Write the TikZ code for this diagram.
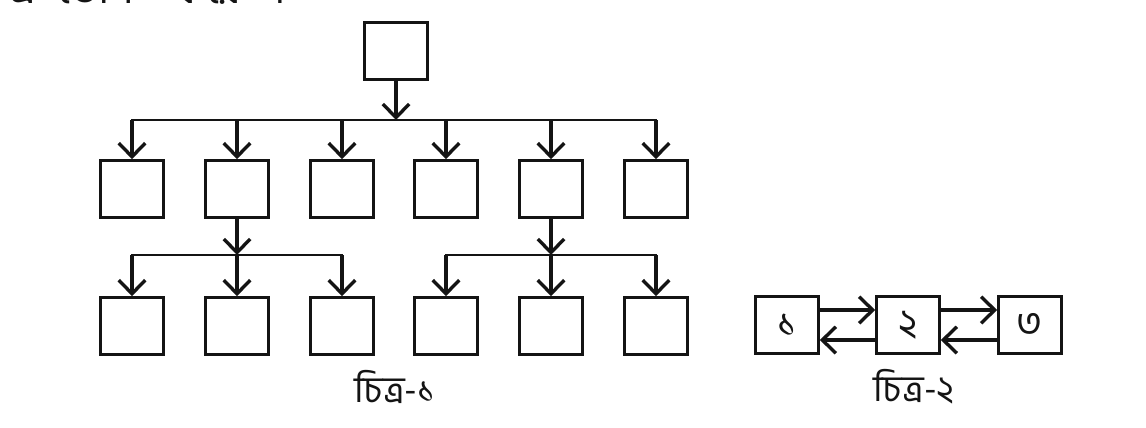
\documentclass[tikz,border=0pt]{standalone}
\usepackage{fontspec}
\newfontfamily\bnfont[Script=Bengali]{Hind Siliguri}
\usetikzlibrary{arrows.meta}
\definecolor{ink}{HTML}{141414}
\tikzset{
  cell/.style={draw=ink, line width=2pt, minimum width=1.57cm, minimum height=1.42cm,
    inner sep=0pt, font=\bnfont\fontsize{28}{32}\selectfont, text=ink},
  flow/.style={draw=ink, line width=2.4pt, -{Straight Barb[length=3.4mm,width=6.6mm]}},
  rail/.style={draw=ink, line width=2.1pt, line cap=rect},
  caption/.style={font=\bnfont\fontsize{26}{30}\selectfont, text=ink, inner sep=0pt},
}
\newcommand{\fanout}[5]{%
  \draw[flow] (#1.south) -- (#1.south |- #2);
  \draw[rail] (#3 |- #2) -- (#4 |- #2);
  \foreach \child in {#5}{\draw[flow] (\child |- #2) -- (\child.north);}
}

\begin{document}
\begin{tikzpicture}[x=0.025cm, y=-0.025cm, line join=miter]
\path[use as bounding box] (0,0) rectangle (1146,428);
% cut-off line of text above the figures
\node[caption, anchor=base west, font=\bnfont\fontsize{31}{34}\selectfont] (lead) at (9,3)
  {এ\hspace{0.5em}ভোগ\hspace{0.9em}করে\hspace{0.7em}।};

% fig 1
\node[cell] (root) at (396,51) {};
\foreach \x [count=\i] in {132,237,342,446,551,656}{\node[cell] (a\i) at (\x,189) {};}
\foreach \x [count=\i] in {132,237,342,446,551,656}{\node[cell] (b\i) at (\x,326) {};}
\coordinate (bar0) at (0,120);
\coordinate (bar1) at (0,255);
\fanout{root}{bar0}{a1}{a6}{a1,a2,a3,a4,a5,a6}
\fanout{a2}{bar1}{b1}{b3}{b1,b2,b3}
\fanout{a5}{bar1}{b4}{b6}{b4,b5,b6}
\node[caption] (cap1) at (395,387) {চিত্র-১};

% fig 2
\node[cell] (c1) at (787,325) {১};
\node[cell] (c2) at (908,325) {২};
\node[cell] (c3) at (1030,325) {৩};
\foreach \l/\r in {c1/c2,c2/c3}{
  \draw[flow] ([yshift=3.75mm]\l.east) -- ([yshift=3.75mm]\r.west);
  \draw[flow] ([yshift=-3.75mm]\r.west) -- ([yshift=-3.75mm]\l.east);
}
\node[caption] (cap2) at (914,387) {চিত্র-২};
\end{tikzpicture}
\end{document}
